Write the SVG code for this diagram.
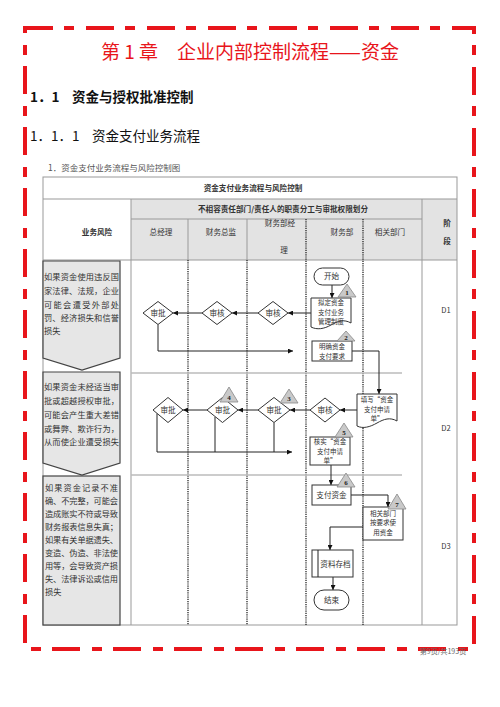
<svg xmlns="http://www.w3.org/2000/svg" width="500" height="707" viewBox="0 0 500 707">
<style>
.cn{font-family:"Noto Sans CJK SC","Liberation Sans",sans-serif}
.t{font-family:"Noto Sans CJK SC",sans-serif;font-size:7.6px;fill:#333;text-anchor:middle}
.bt{font-family:"Noto Sans CJK SC",sans-serif;font-size:6.5px;fill:#333;text-anchor:middle}
.hd{font-weight:bold}
.rk{font-family:"Noto Sans CJK SC",sans-serif;font-size:8.2px;fill:#333}
.grid{stroke:#999;stroke-width:1;fill:none}
.dot{stroke:#222;stroke-width:1.3;stroke-dasharray:1.2 1;fill:none}
.sep{stroke:#bbb;stroke-width:1.5}
.box{fill:#fff;stroke:#333;stroke-width:1}
.risk{fill:#e6e6e6;stroke:#444;stroke-width:1.2}
.tri{fill:#c9c9c9;stroke:#888;stroke-width:0.8}
.num{font-family:"Liberation Serif",serif;font-size:7px;font-weight:bold;fill:#222;text-anchor:middle}
.ln{stroke:#222;stroke-width:1;fill:none}
.arr{stroke:#222;stroke-width:1;fill:none;marker-end:url(#ah)}
</style>
<defs>
<marker id="ah" viewBox="0 0 10 10" refX="10" refY="5" markerWidth="5" markerHeight="5" orient="auto" markerUnits="userSpaceOnUse">
<path d="M0,0 L10,5 L0,10 z" fill="#111"/>
</marker>
</defs>
<rect width="500" height="707" fill="#fff"/>
<rect x="25" y="28" width="449" height="621" fill="none" stroke="#e8151b" stroke-width="4" stroke-dasharray="28 11 10 12"/>
<text x="250" y="59" class="cn" font-size="19" fill="#e8151b" text-anchor="middle">第 1 章　企业内部控制流程——资金</text>
<text y="102" class="cn" font-size="13.5" font-weight="bold" fill="#111"><tspan x="30">1．1</tspan><tspan x="72">资金与授权批准控制</tspan></text>
<text y="141" class="cn" font-size="13.5" fill="#111"><tspan x="30">1．1．1</tspan><tspan x="92">资金支付业务流程</tspan></text>
<text x="48" y="171" class="cn" font-size="8.5" fill="#555">1．资金支付业务流程与风险控制图</text>

<g id="table">
<rect x="131" y="199" width="291" height="61" fill="#e3e3e3"/>
<rect x="422" y="199" width="35" height="61" fill="#e3e3e3"/>
<rect x="43" y="177" width="414" height="448" class="grid"/>
<line x1="43" y1="199" x2="457" y2="199" class="grid"/>
<line x1="131" y1="219" x2="422" y2="219" class="grid"/>
<line x1="43" y1="260" x2="457" y2="260" class="grid"/>
<line x1="131" y1="199" x2="131" y2="625" class="grid" stroke-width="1.5"/>
<line x1="422" y1="199" x2="422" y2="625" class="grid"/>
<line x1="188" y1="219" x2="188" y2="260" class="grid"/>
<line x1="247" y1="219" x2="247" y2="260" class="grid"/>
<line x1="188" y1="260" x2="188" y2="625" class="dot"/>
<line x1="247" y1="260" x2="247" y2="625" class="dot"/>
<line x1="306" y1="219" x2="306" y2="625" class="dot"/>
<line x1="363" y1="219" x2="363" y2="625" class="dot"/>
<line x1="131" y1="373" x2="402" y2="373" class="sep"/>
<line x1="131" y1="475" x2="402" y2="475" class="sep"/>
<text x="253" y="191" class="t hd">资金支付业务流程与风险控制</text>
<text x="283" y="212" class="t hd">不相容责任部门/责任人的职责分工与审批权限划分</text>
<text x="97" y="235" class="t hd">业务风险</text>
<text x="447" y="226" class="t hd">阶</text>
<text x="447" y="244" class="t hd">段</text>
<text x="161" y="235" class="t">总经理</text>
<text x="221" y="235" class="t">财务总监</text>
<text x="280" y="226" class="t">财务部经</text>
<text x="284" y="253" class="t">理</text>
<text x="342" y="235" class="t">财务部</text>
<text x="390" y="235" class="t">相关部门</text>
<text x="446" y="313" class="t">D1</text>
<text x="446" y="431" class="t">D2</text>
<text x="446" y="549" class="t">D3</text>
</g>

<g id="risk1">
<path d="M43,261 H120 V358 L82,370 L43,358 Z" class="risk"/>
<text class="rk"><tspan x="44" y="280" textLength="75">如果资金使用违反国</tspan><tspan x="44" y="294" textLength="75">家法律、法规，企业</tspan><tspan x="44" y="308" textLength="75">可能会遭受外部处</tspan><tspan x="44" y="321" textLength="75">罚、经济损失和信誉</tspan><tspan x="44" y="334">损失</tspan></text>
</g>
<g id="risk2">
<path d="M43,372 H120 V463 L82,475 L43,463 Z" class="risk"/>
<text class="rk"><tspan x="44" y="390" textLength="75">如果资金未经适当审</tspan><tspan x="44" y="404" textLength="75">批或超越授权审批，</tspan><tspan x="44" y="418" textLength="75">可能会产生重大差错</tspan><tspan x="44" y="432" textLength="75">或舞弊、欺诈行为，</tspan><tspan x="44" y="445" textLength="75">从而使企业遭受损失</tspan></text>
</g>
<g id="risk3">
<rect x="43" y="476" width="77" height="149" class="risk"/>
<text class="rk"><tspan x="45" y="491" textLength="73">如果资金记录不准</tspan><tspan x="45" y="504" textLength="73">确、不完整，可能会</tspan><tspan x="45" y="517" textLength="73">造成账实不符或导致</tspan><tspan x="45" y="530" textLength="73">财务报表信息失真；</tspan><tspan x="45" y="543" textLength="73">如果有关单据遗失、</tspan><tspan x="45" y="556" textLength="73">变造、伪造、非法使</tspan><tspan x="45" y="569" textLength="73">用等，会导致资产损</tspan><tspan x="45" y="582" textLength="73">失、法律诉讼或信用</tspan><tspan x="45" y="595">损失</tspan></text>
</g>

<g id="connectors">
<path d="M332,285 V298" class="arr"/>
<path d="M311,313 H288" class="arr"/>
<path d="M258,313 H232" class="arr"/>
<path d="M202,313 H173" class="arr"/>
<path d="M158,324.5 V351 H293" class="arr"/>
<path d="M352,351 H379 V394" class="arr"/>
<path d="M357,410 H340" class="arr"/>
<path d="M310,410 H290" class="arr"/>
<path d="M258,410 H238" class="arr"/>
<path d="M207,410 H183" class="arr"/>
<path d="M157,413.5 V452 H292" class="arr"/>
<path d="M215,417 V452" class="ln"/>
<path d="M274,422.5 V452" class="ln"/>
<path d="M331,465 V485" class="arr"/>
<path d="M351,495 H388 V507" class="arr"/>
<path d="M363,527 H330 V550" class="arr"/>
<path d="M333,577 V590" class="arr"/>
</g>

<g id="start">
<rect x="314" y="268" width="35" height="17" rx="8.5" class="box"/>
<text x="331.5" y="279" class="t">开始</text>
</g>
<g id="step1">
<path d="M311,298 H351 V323 C344,319 338,321 331,325 C324,329 317,330 311,327 Z" class="box"/>
<text class="bt"><tspan x="331" y="305">拟定资金</tspan><tspan x="331" y="314.5">支付业务</tspan><tspan x="331" y="324">管理制度</tspan></text>
<path d="M347,284 L356,297 L338,297 Z" class="tri"/>
<text x="347" y="295" class="num">1</text>
</g>
<g id="d1-review-mgr">
<path d="M258,313 L273,301.5 L288,313 L273,324.5 Z" class="box"/>
<text x="273" y="316" class="t">审核</text>
</g>
<g id="d1-review-cfo">
<path d="M202,313 L217,301.5 L232,313 L217,324.5 Z" class="box"/>
<text x="217" y="316" class="t">审核</text>
</g>
<g id="d1-approve-gm">
<path d="M143,313 L158,301.5 L173,313 L158,324.5 Z" class="box"/>
<text x="158" y="316" class="t">审批</text>
</g>
<g id="step2">
<rect x="312" y="341" width="40" height="20" class="box"/>
<text class="bt"><tspan x="332" y="349">明确资金</tspan><tspan x="332" y="358.5">支付要求</tspan></text>
<path d="M346,331 L355,341 L337,341 Z" class="tri"/>
<text x="346" y="339.5" class="num">2</text>
</g>

<g id="fill-form">
<path d="M357,394 H397 V421 C390,417 384,419 377,423 C370,427 363,429 357,426 Z" class="box"/>
<text class="bt"><tspan x="377" y="402">填写“资金</tspan><tspan x="377" y="411.5">支付申请</tspan><tspan x="377" y="421">单”</tspan></text>
</g>
<g id="d2-review">
<path d="M310,410 L325,398 L340,410 L325,422 Z" class="box"/>
<text x="325" y="413" class="t">审核</text>
</g>
<g id="d2-approve-mgr">
<path d="M258,410 L274,397.5 L290,410 L274,422.5 Z" class="box"/>
<text x="274" y="413" class="t">审批</text>
<path d="M289,389 L298,403 L280,403 Z" class="tri"/>
<text x="289" y="401" class="num">3</text>
</g>
<g id="d2-approve-cfo">
<path d="M207,410 L222.5,397.5 L238,410 L222.5,422.5 Z" class="box"/>
<text x="222.5" y="413" class="t">审批</text>
<path d="M229,387 L238,402 L220,402 Z" class="tri"/>
<text x="229" y="399.5" class="num">4</text>
</g>
<g id="d2-approve-gm">
<path d="M153,410 L168,397.5 L183,410 L168,422.5 Z" class="box"/>
<text x="168" y="413" class="t">审批</text>
</g>
<g id="verify">
<rect x="310" y="437" width="40" height="28" class="box"/>
<text class="bt"><tspan x="330" y="444">核实“资金</tspan><tspan x="330" y="453.5">支付申请</tspan><tspan x="330" y="463">单”</tspan></text>
<path d="M344,423 L353,437 L335,437 Z" class="tri"/>
<text x="344" y="435" class="num">5</text>
</g>

<g id="pay">
<rect x="312" y="485" width="39" height="20" class="box"/>
<text x="331.5" y="498" class="t">支付资金</text>
<path d="M346,473 L355,487 L337,487 Z" class="tri"/>
<text x="346" y="485" class="num">6</text>
</g>
<g id="use">
<rect x="363" y="507" width="40" height="33" class="box"/>
<text class="bt"><tspan x="383" y="515.5">相关部门</tspan><tspan x="383" y="525">按要求使</tspan><tspan x="383" y="534.5">用资金</tspan></text>
<path d="M397,494 L406,509 L388,509 Z" class="tri"/>
<text x="397" y="506.5" class="num">7</text>
</g>
<g id="archive">
<rect x="312" y="550" width="41" height="27" class="box"/>
<line x1="318" y1="550" x2="318" y2="577" class="ln"/>
<text x="335.5" y="567" class="t">资料存档</text>
</g>
<g id="end">
<rect x="314" y="590" width="35" height="20" rx="10" class="box"/>
<text x="331.5" y="603" class="t">结束</text>
</g>

<text x="443" y="654" class="cn" font-size="7" fill="#666" text-anchor="middle">第9页/共193页</text>
</svg>
